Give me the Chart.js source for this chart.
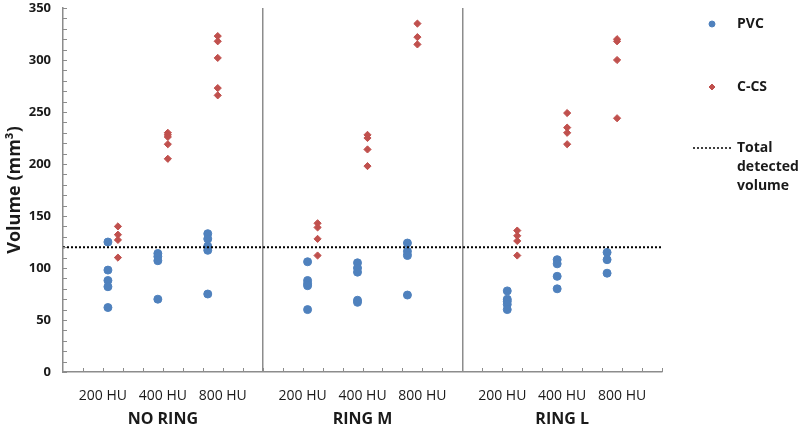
<!DOCTYPE html>
<html>
<head>
<meta charset="utf-8">
<title>Volume</title>
<script src="https://cdn.jsdelivr.net/npm/chart.js@4"></script>
<style>
  html, body { margin: 0; padding: 0; background: #fff; }
</style>
</head>
<body>
<canvas id="chart" width="800" height="427"></canvas>
<script>
// categorías
const groups = ["NO RING", "RING M", "RING L"];
const huLevels = ["200 HU", "400 HU", "800 HU"];

// PVC: por grupo, una lista por nivel 200 / 400 / 800 HU
const pvcNoRing = [[125, 98, 88, 82, 62], [114, 111, 107, 70], [133, 128, 121, 117, 75]];
const pvcRingM  = [[106, 88, 85, 83, 60], [105, 100, 96, 69, 67], [124, 116, 112, 74]];
const pvcRingL  = [[78, 70, 68, 65, 60], [108, 104, 92, 80], [115, 108, 95]];

// C-CS
const ccsNoRing = [[140, 132, 127, 110], [230, 228, 226, 219, 205], [323, 318, 302, 273, 266]];
const ccsRingM  = [[143, 139, 128, 112], [228, 225, 214, 198], [335, 322, 315]];
const ccsRingL  = [[136, 131, 126, 112], [249, 235, 230, 219], [320, 318, 300, 244]];

const totalDetected = 120;
const yMax = 350;

// posiciones en el eje x (cada grupo ocupa 10 unidades)
const groupWidth = 10;
const labelX = [2, 5, 8];
const pvcX = [2.25, 4.75, 7.25];
const ccsX = [2.75, 5.25, 7.75];

const axisGray = "#8c8c8c";
const textColor = "#1a1a1a";

function toPoints(perGroup, xs) {
  const pts = [];
  perGroup.forEach((levels, g) => {
    levels.forEach((vals, i) => {
      vals.forEach(v => pts.push({ x: g * groupWidth + xs[i], y: v }));
    });
  });
  return pts;
}

const pvcPoints = toPoints([pvcNoRing, pvcRingM, pvcRingL], pvcX);
const ccsPoints = toPoints([ccsNoRing, ccsRingM, ccsRingL], ccsX);
const xMax = groups.length * groupWidth;

// etiquetas HU: valor x -> texto
const huTicks = [];
groups.forEach((g, gi) => huLevels.forEach((h, i) => huTicks.push({ value: gi * groupWidth + labelX[i], label: h })));
const separators = groups.slice(1).map((g, gi) => (gi + 1) * groupWidth);

Chart.defaults.font.family = "'Open Sans', sans-serif";
Chart.defaults.color = textColor;

// marcas menores hacia dentro en ambos ejes
const minorTicks = {
  id: "minorTicks",
  afterDraw(chart) {
    const { ctx, chartArea } = chart;
    const xs = chart.scales.x, ys = chart.scales.y;
    ctx.save();
    ctx.strokeStyle = axisGray;
    ctx.lineWidth = 1;
    ctx.beginPath();
    for (let v = 0; v <= yMax; v += 10) {
      const py = Math.round(ys.getPixelForValue(v)) + 0.5;
      ctx.moveTo(chartArea.left, py);
      ctx.lineTo(chartArea.left + 4, py);
    }
    for (let v = 1; v <= xMax; v += 1) {
      const px = Math.round(xs.getPixelForValue(v)) + 0.5;
      ctx.moveTo(px, chartArea.bottom);
      ctx.lineTo(px, chartArea.bottom - 4);
    }
    ctx.stroke();
    ctx.restore();
  }
};

// leyenda a la derecha, una entrada por serie
const sideLegend = {
  id: "sideLegend",
  afterDraw(chart) {
    const { ctx, chartArea } = chart;
    const markX = chartArea.right + 50;
    const textX = chartArea.right + 75;
    const rows = [24, 87, 148];
    ctx.save();
    ctx.font = "bold 14px 'Open Sans', sans-serif";
    ctx.textBaseline = "middle";
    ctx.fillStyle = textColor;
    chart.data.datasets.forEach((ds, i) => {
      const y = rows[i];
      if (ds.type === "line") {
        ctx.save();
        ctx.strokeStyle = ds.borderColor;
        ctx.lineWidth = 1.5;
        ctx.setLineDash([2, 2]);
        ctx.beginPath();
        ctx.moveTo(markX - 19, y);
        ctx.lineTo(markX + 20, y);
        ctx.stroke();
        ctx.restore();
      } else {
        ctx.save();
        ctx.fillStyle = ds.backgroundColor;
        ctx.strokeStyle = ds.borderColor;
        Chart.helpers.drawPoint(ctx, { pointStyle: ds.pointStyle, radius: 3, borderWidth: 1, rotation: 0 }, markX, y);
        ctx.restore();
      }
      const lines = ds.type === "line" ? ds.label.split(" ") : [ds.label];
      lines.forEach((t, k) => ctx.fillText(t, textX, y + k * 19));
    });
    ctx.restore();
  }
};

new Chart(document.getElementById("chart"), {
  type: "scatter",
  data: {
    datasets: [
      {
        label: "PVC",
        data: pvcPoints,
        pointStyle: "circle",
        pointRadius: 4,
        backgroundColor: "#4F81BD",
        borderColor: "#4F81BD",
        order: 2
      },
      {
        label: "C-CS",
        data: ccsPoints,
        pointStyle: "rectRot",
        pointRadius: 3.6,
        backgroundColor: "#C0504D",
        borderColor: "#C0504D",
        order: 1
      },
      {
        type: "line",
        label: "Total detected volume",
        data: [{ x: 0, y: totalDetected }, { x: xMax, y: totalDetected }],
        borderColor: "#000",
        borderWidth: 2,
        borderDash: [2, 2],
        pointRadius: 0,
        fill: false,
        order: 0
      }
    ]
  },
  options: {
    responsive: false,
    animation: false,
    layout: { padding: { top: 8, right: 138, left: 0, bottom: 0 } },
    plugins: {
      legend: { display: false },
      tooltip: { enabled: false }
    },
    scales: {
      x: {
        type: "linear",
        position: "bottom",
        min: 0,
        max: xMax,
        afterBuildTicks: s => {
          s.ticks = huTicks.map(t => ({ value: t.value })).concat(separators.map(v => ({ value: v })));
          s.ticks.sort((a, b) => a.value - b.value);
        },
        afterFit: s => { s.height = 36; },
        ticks: {
          autoSkip: false,
          maxRotation: 0,
          padding: 16,
          font: { size: 14 },
          callback: v => {
            const t = huTicks.find(h => h.value === v);
            return t ? t.label : "";
          }
        },
        grid: {
          drawTicks: false,
          lineWidth: 1.5,
          color: c => (c.tick && separators.includes(c.tick.value)) ? axisGray : "rgba(0,0,0,0)"
        },
        border: { display: true, color: axisGray, width: 1.5 }
      },
      x2: {
        type: "linear",
        position: "bottom",
        min: 0,
        max: xMax,
        afterBuildTicks: s => {
          s.ticks = groups.map((g, i) => ({ value: i * groupWidth + groupWidth / 2 }));
        },
        afterFit: s => { s.height = 19; },
        ticks: {
          autoSkip: false,
          maxRotation: 0,
          padding: 2,
          font: { size: 16, weight: "bold" },
          callback: (v, i) => groups[i]
        },
        grid: { display: false, drawTicks: false },
        border: { display: false }
      },
      y: {
        min: 0,
        max: yMax,
        afterFit: s => { s.width = 63; s.paddingTop = 0; s.paddingBottom = 0; },
        ticks: {
          stepSize: 50,
          padding: 12,
          font: { size: 13, weight: "bold" }
        },
        grid: { display: false, drawTicks: false },
        border: { display: true, color: axisGray, width: 1.5 },
        title: {
          display: true,
          text: "Volume (mm³)",
          font: { size: 18, weight: "bold" },
          padding: { top: 4, bottom: 0 }
        }
      }
    }
  },
  plugins: [minorTicks, sideLegend]
});
</script>
</body>
</html>
